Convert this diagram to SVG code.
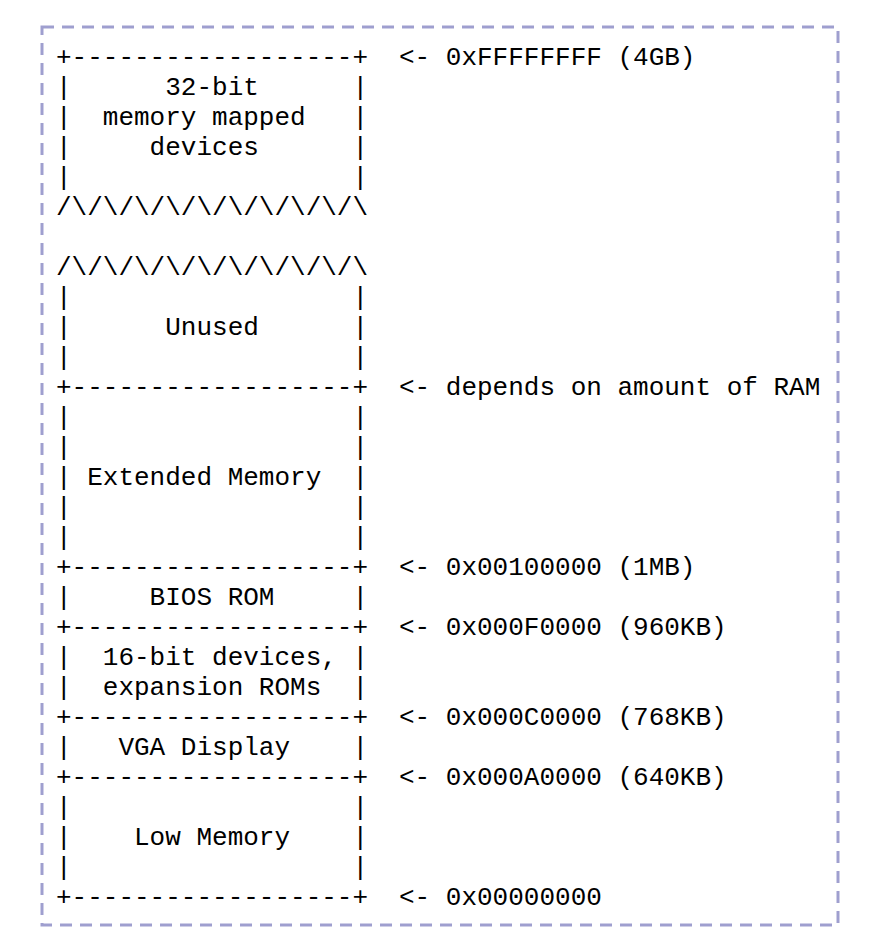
<svg xmlns="http://www.w3.org/2000/svg" width="878" height="950" viewBox="0 0 878 950" xml:space="preserve">
<style>
text{font-family:"Liberation Mono","DejaVu Sans Mono",monospace;font-size:26px;fill:#000;white-space:pre}
.frame{fill:none;stroke:#9f9fcf;stroke-width:3;stroke-dasharray:12 8}
</style>
<rect width="878" height="950" fill="#fff"/>
<rect class="frame" x="42" y="27" width="796" height="898"/>
<g id="region-32bit">
<text x="56" y="65">+------------------+</text>
<text x="56" y="95">|      32-bit      |</text>
<text x="56" y="125">|  memory mapped   |</text>
<text x="56" y="155">|     devices      |</text>
<text x="56" y="185">|                  |</text>
<text x="56" y="215">/\/\/\/\/\/\/\/\/\/\</text>
</g>
<g id="region-unused">
<text x="56" y="275">/\/\/\/\/\/\/\/\/\/\</text>
<text x="56" y="305">|                  |</text>
<text x="56" y="335">|      Unused      |</text>
<text x="56" y="365">|                  |</text>
<text x="56" y="395">+------------------+</text>
</g>
<g id="region-extended">
<text x="56" y="425">|                  |</text>
<text x="56" y="455">|                  |</text>
<text x="56" y="485">| Extended Memory  |</text>
<text x="56" y="515">|                  |</text>
<text x="56" y="545">|                  |</text>
<text x="56" y="575">+------------------+</text>
</g>
<g id="region-bios">
<text x="56" y="605">|     BIOS ROM     |</text>
<text x="56" y="635">+------------------+</text>
</g>
<g id="region-16bit">
<text x="56" y="665">|  16-bit devices, |</text>
<text x="56" y="695">|  expansion ROMs  |</text>
<text x="56" y="725">+------------------+</text>
</g>
<g id="region-vga">
<text x="56" y="755">|   VGA Display    |</text>
<text x="56" y="785">+------------------+</text>
</g>
<g id="region-low">
<text x="56" y="815">|                  |</text>
<text x="56" y="845">|    Low Memory    |</text>
<text x="56" y="875">|                  |</text>
<text x="56" y="905">+------------------+</text>
</g>
<g id="connectors">
<text x="399" y="65">&lt;- 0xFFFFFFFF (4GB)</text>
<text x="399" y="395">&lt;- depends on amount of RAM</text>
<text x="399" y="575">&lt;- 0x00100000 (1MB)</text>
<text x="399" y="635">&lt;- 0x000F0000 (960KB)</text>
<text x="399" y="725">&lt;- 0x000C0000 (768KB)</text>
<text x="399" y="785">&lt;- 0x000A0000 (640KB)</text>
<text x="399" y="905">&lt;- 0x00000000</text>
</g>
</svg>
